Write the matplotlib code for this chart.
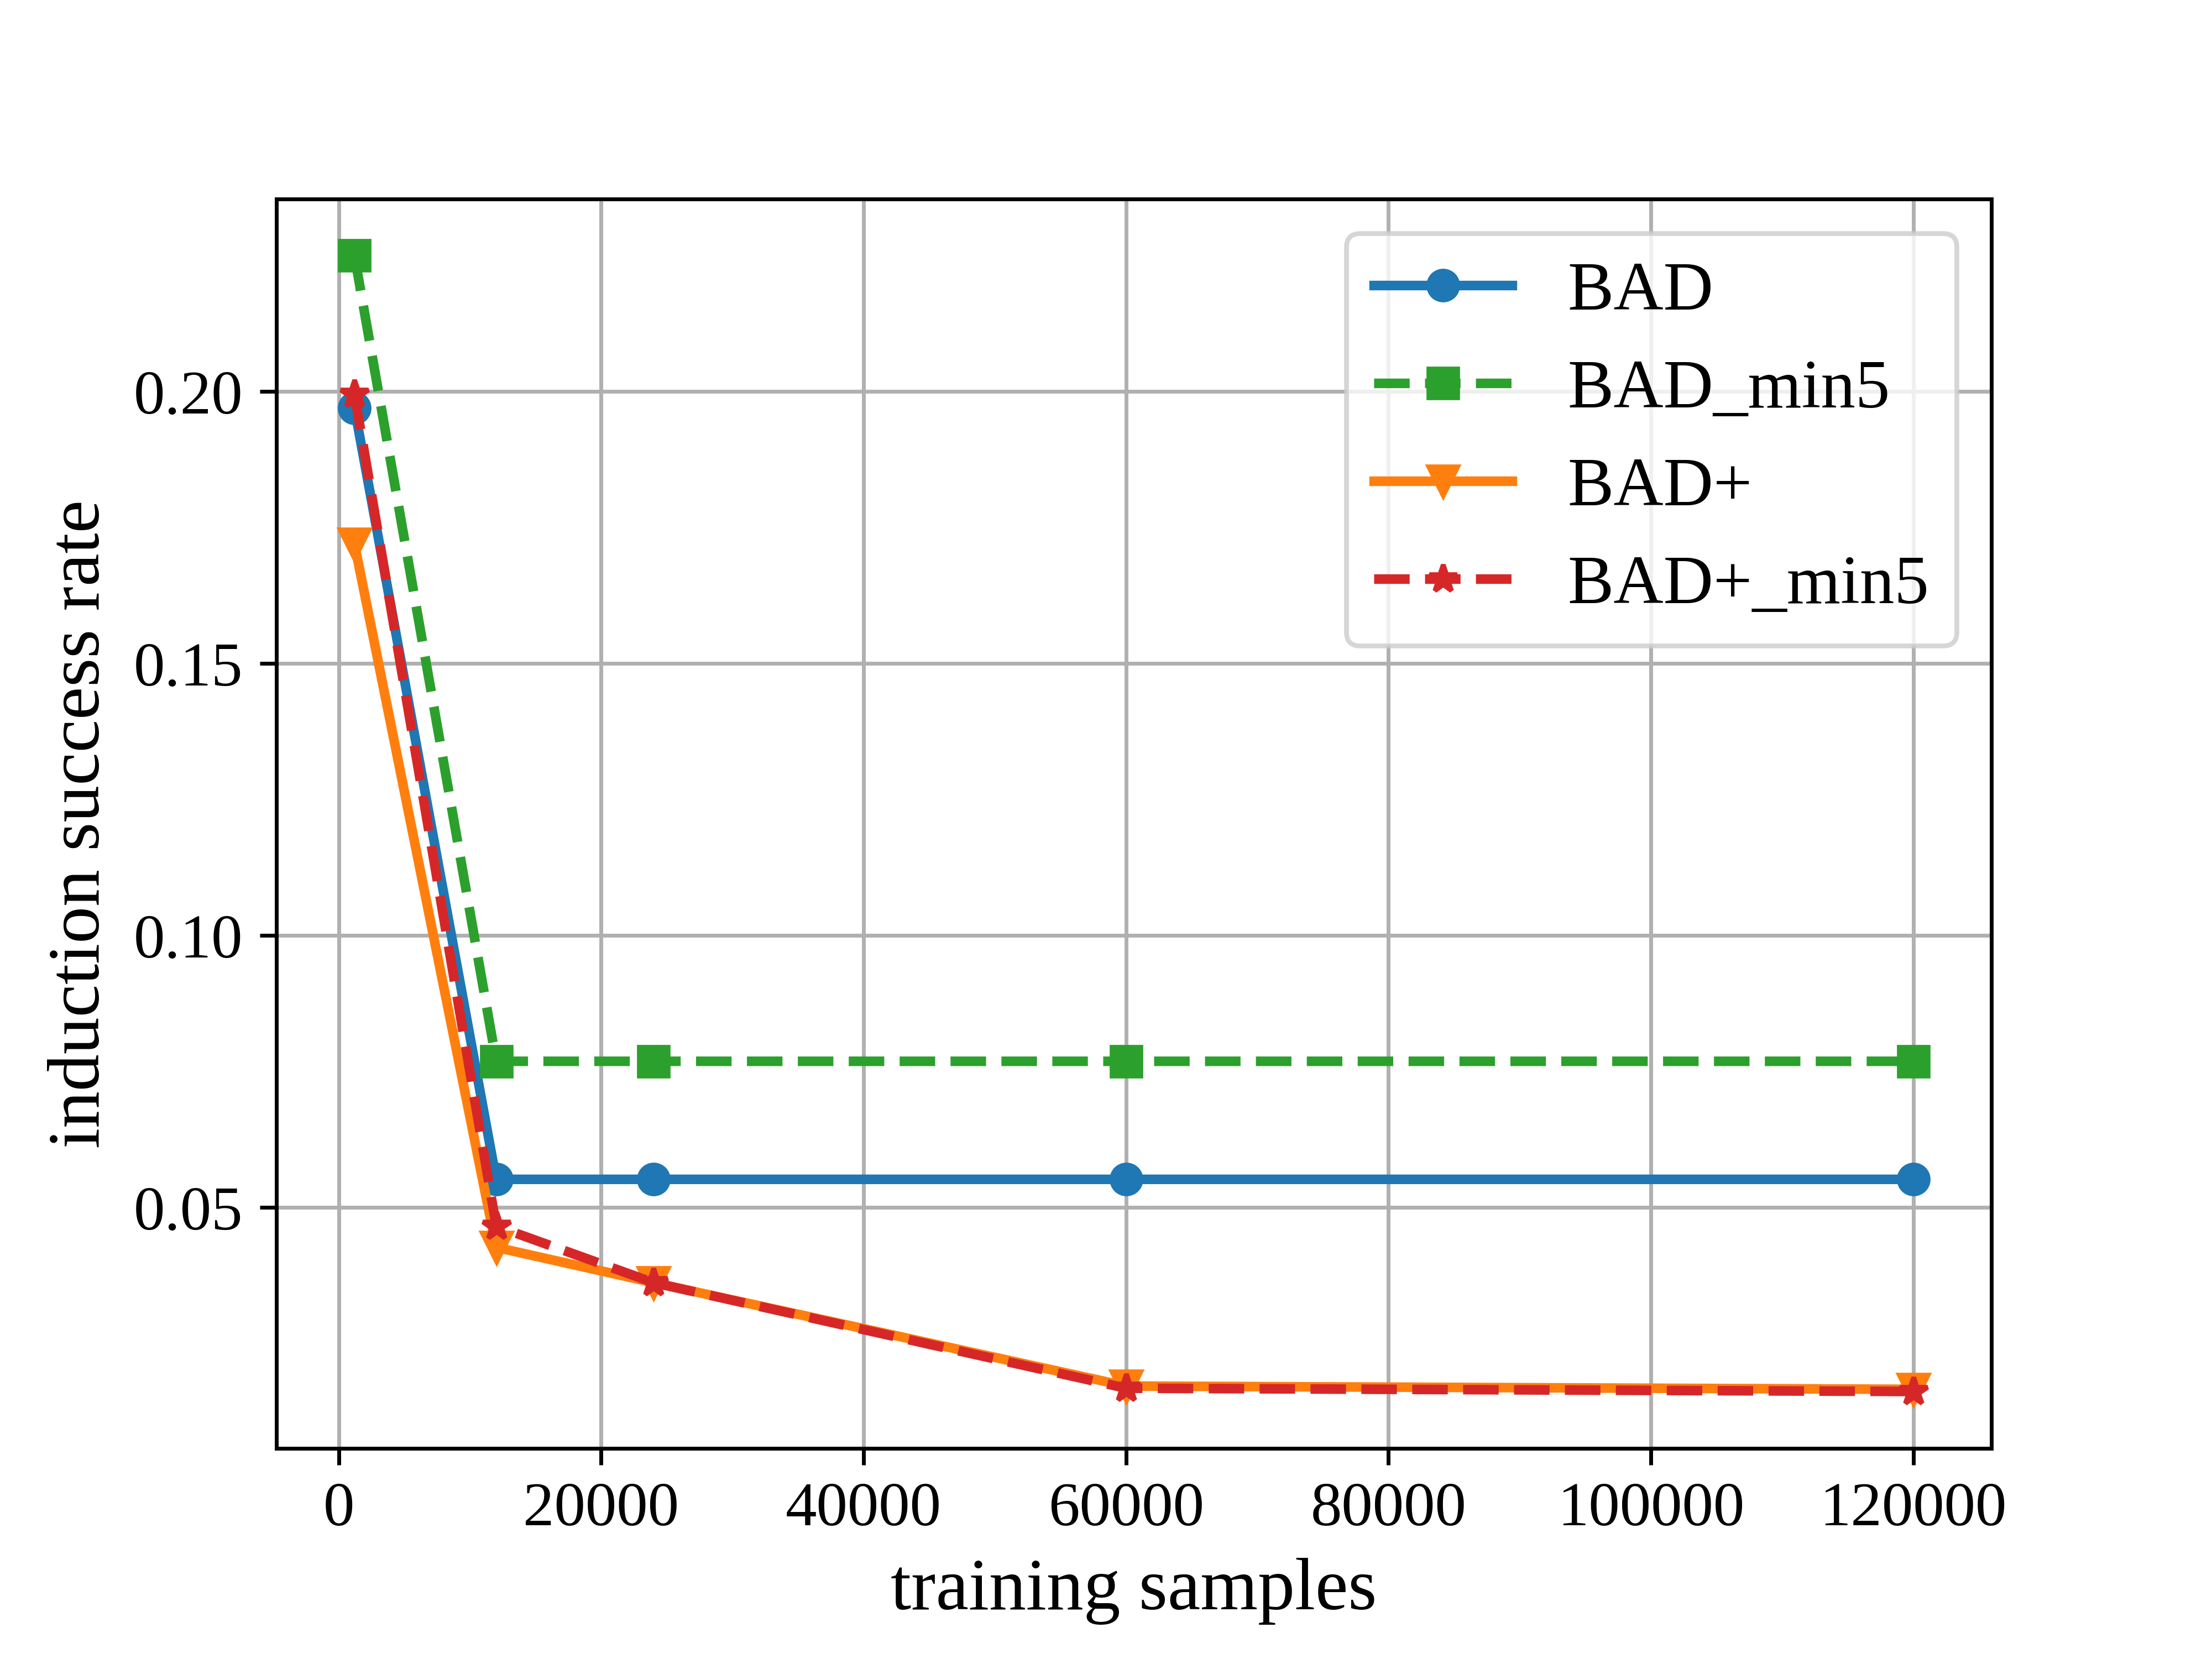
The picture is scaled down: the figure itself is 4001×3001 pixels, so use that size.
import matplotlib
matplotlib.use("Agg")
import matplotlib.pyplot as plt

plt.rcParams["font.family"] = ["Liberation Serif", "DejaVu Serif"]

samples = [1200, 12000, 24000, 60000, 120000]
bad = [0.197, 0.0552, 0.0552, 0.0552, 0.0552]
bad_min5 = [0.225, 0.0769, 0.0769, 0.0769, 0.0769]
bad_plus = [0.172, 0.0427, 0.0362, 0.0172, 0.0166]
bad_plus_min5 = [0.1995, 0.0466, 0.0362, 0.0168, 0.0162]

fig, ax = plt.subplots(figsize=(6.4, 4.8))
fig.subplots_adjust(bottom=0.127, top=0.88)
ax.plot(samples, bad, "-o", color="tab:blue", linewidth=2, label="BAD")
ax.plot(samples, bad_min5, "--s", color="tab:green", linewidth=2, label="BAD_min5")
ax.plot(samples, bad_plus, "-v", color="tab:orange", linewidth=2, label="BAD+")
ax.plot(samples, bad_plus_min5, "--*", color="tab:red", linewidth=2, label="BAD+_min5")

ax.set_xlabel("training samples", fontsize=15.4)
ax.set_ylabel("induction success rate", fontsize=15.4)
ax.tick_params(labelsize=13)
ax.grid(True)
ax.legend(loc="upper right", fontsize=14.4)

fig.savefig("out.png", dpi=625.3)
